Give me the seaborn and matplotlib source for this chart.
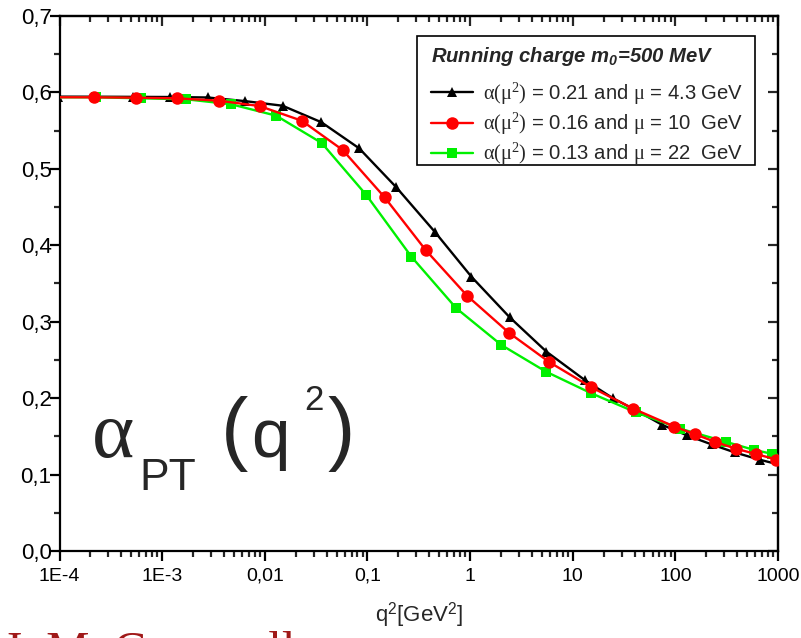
import numpy as np
import matplotlib
matplotlib.use("Agg")
import matplotlib.pyplot as plt
import seaborn as sns
from matplotlib.patches import Rectangle
from matplotlib.ticker import FixedLocator, FixedFormatter, LogLocator, MultipleLocator, NullFormatter

# ---- data ----
q2_black = [9.57e-5, 2.23e-4, 5.16e-4, 1.20e-3, 2.77e-3, 6.46e-3, 0.0149, 0.0356, 0.0830,
            0.191, 0.452, 1.03, 2.43, 5.55, 13.1, 24.7, 42.6, 74.5, 129, 225, 379, 661, 1140]
alpha_black = [0.5945, 0.5944, 0.5942, 0.5940, 0.5934, 0.5886, 0.5826, 0.5610, 0.5269,
               0.4759, 0.4178, 0.3589, 0.3058, 0.2608, 0.2237, 0.1998, 0.1832, 0.1650,
               0.1515, 0.1395, 0.1290, 0.1195, 0.1115]

q2_red = [8.63e-5, 2.19e-4, 5.51e-4, 1.39e-3, 3.57e-3, 8.89e-3, 0.0229, 0.0574, 0.147,
          0.369, 0.942, 2.39, 5.89, 15.2, 38.7, 97.9, 156, 246, 388, 617, 966]
alpha_red = [0.5937, 0.5936, 0.5931, 0.5923, 0.5892, 0.5822, 0.5630, 0.5247, 0.4628,
             0.3938, 0.3336, 0.2856, 0.2473, 0.2142, 0.1863, 0.1628, 0.1527, 0.1426,
             0.1339, 0.1267, 0.1197]

q2_green = [8.30e-5, 2.28e-4, 6.25e-4, 1.72e-3, 4.71e-3, 0.0129, 0.0359, 0.0975, 0.268,
            0.734, 2.02, 5.50, 15.2, 40.9, 112, 308, 590, 865, 1259]
alpha_green = [0.5937, 0.5936, 0.5923, 0.5910, 0.5845, 0.5696, 0.5338, 0.4658, 0.3851,
               0.3176, 0.2695, 0.2346, 0.2063, 0.1816, 0.1599, 0.1430, 0.1321, 0.1273, 0.1235]

series_labels = [r"$\alpha(\mu^2)$ = 0.21 and $\mu$ = 4.3 GeV",
                 r"$\alpha(\mu^2)$ = 0.16 and $\mu$ = 10  GeV",
                 r"$\alpha(\mu^2)$ = 0.13 and $\mu$ = 22  GeV"]
legend_title = r"Running charge m$_{\mathbf{0}}$=500 MeV"

x_ticks = [1e-4, 1e-3, 1e-2, 1e-1, 1, 10, 100, 1000]
x_tick_labels = ["1E-4", "1E-3", "0,01", "0,1", "1", "10", "100", "1000"]
y_ticks = [0.0, 0.1, 0.2, 0.3, 0.4, 0.5, 0.6, 0.7]
y_tick_labels = ["0,0", "0,1", "0,2", "0,3", "0,4", "0,5", "0,6", "0,7"]
x_label = r"q$^{\mathsf{2}}$[GeV$^{\mathsf{2}}$]"
author = "J. M. Cornwall"

# ---- style ----
sns.set_style("ticks")
plt.rcParams["font.family"] = ["Liberation Sans", "DejaVu Sans"]
plt.rcParams["mathtext.fontset"] = "custom"
plt.rcParams["mathtext.rm"] = "Liberation Serif"
plt.rcParams["mathtext.sf"] = "Liberation Sans"
plt.rcParams["mathtext.bf"] = "Liberation Sans:bold:italic"
plt.rcParams["mathtext.default"] = "rm"

W, H = 801, 638
AX_L, AX_R, AX_T, AX_B = 59.5, 778.0, 16.0, 551.0
fig = plt.figure(figsize=(W / 100, H / 100), dpi=100)
ax = fig.add_axes([AX_L / W, (H - AX_B) / H, (AX_R - AX_L) / W, (AX_B - AX_T) / H])
ax.set_xscale("log")
ax.set_xlim(1e-4, 1e3)
ax.set_ylim(0, 0.7)

plot_specs = [
    (q2_black, alpha_black, "black", "^", 7.5, series_labels[0], 2),
    (q2_red, alpha_red, "#ff0000", "o", 9.0, series_labels[1], 4),
    (q2_green, alpha_green, "#00f000", "s", 6.8, series_labels[2], 3),
]
for q, a, col, mk, ms, lab, z in plot_specs:
    sns.lineplot(x=q, y=a, ax=ax, color=col, marker=mk, markersize=ms,
                 markeredgewidth=0, linewidth=1.7, label=lab, zorder=z,
                 estimator=None, sort=False)

# ---- axes / ticks ----
for s in ax.spines.values():
    s.set_linewidth(1.6)
    s.set_color("black")
ax.xaxis.set_major_locator(FixedLocator(x_ticks))
ax.xaxis.set_major_formatter(FixedFormatter(x_tick_labels))
ax.xaxis.set_minor_locator(LogLocator(base=10, subs=np.arange(2, 10), numticks=100))
ax.xaxis.set_minor_formatter(NullFormatter())
ax.yaxis.set_major_locator(FixedLocator(y_ticks))
ax.yaxis.set_major_formatter(FixedFormatter(y_tick_labels))
ax.yaxis.set_minor_locator(MultipleLocator(0.05))
ax.tick_params(which="major", direction="out", length=7.2, width=1.6, colors="black")
ax.tick_params(axis="x", which="major", pad=5, labelsize=14)
ax.tick_params(axis="y", which="major", pad=-1.5, labelsize=16)
ax.tick_params(which="minor", direction="out", length=4.5, width=1.6)
ax.set_xlabel(x_label, fontsize=16, labelpad=11)
ax.set_ylabel("")

secx = ax.secondary_xaxis("top")
secx.xaxis.set_major_locator(FixedLocator(x_ticks))
secx.xaxis.set_minor_locator(LogLocator(base=10, subs=np.arange(2, 10), numticks=100))
secx.xaxis.set_major_formatter(NullFormatter())
secx.xaxis.set_minor_formatter(NullFormatter())
secx.tick_params(which="major", direction="in", length=7, width=1.6)
secx.tick_params(which="minor", direction="in", length=4, width=1.6)
secx.spines["top"].set_linewidth(1.6)

secy = ax.secondary_yaxis("right")
secy.yaxis.set_major_locator(FixedLocator(y_ticks))
secy.yaxis.set_minor_locator(MultipleLocator(0.05))
secy.yaxis.set_major_formatter(NullFormatter())
secy.tick_params(which="major", direction="in", length=7, width=1.6)
secy.tick_params(which="minor", direction="in", length=4, width=1.6)
secy.spines["right"].set_linewidth(1.6)

# ---- legend (frame drawn as a separate box) ----
def axfx(x):
    return (x - AX_L) / (AX_R - AX_L)

def axfy(y):
    return (AX_B - y) / (AX_B - AX_T)

frame = Rectangle((axfx(417), axfy(165)), axfx(755) - axfx(417), axfy(36) - axfy(165),
                  transform=ax.transAxes, facecolor="white", edgecolor="black",
                  linewidth=1.2, zorder=9)
ax.add_patch(frame)

handles, labels = ax.get_legend_handles_labels()
leg = ax.legend(handles, labels, title=legend_title, loc="upper right",
                bbox_to_anchor=(axfx(743), axfy(45)), borderaxespad=0, frameon=False,
                fontsize=14.6,
                title_fontproperties={"weight": "bold", "style": "italic", "size": 14.6},
                alignment="left", handlelength=2.1, handletextpad=0.45,
                labelspacing=0.2, borderpad=0.0)
leg._legend_box.sep = 8.9
leg.set_zorder(10)

# ---- big in-plot label alpha_PT (q^2) ----
def fx(x):
    return x / W

def fy(y):
    return 1 - y / H

fig.text(fx(92), fy(457), "\u03b1", family="Liberation Serif", fontsize=58, va="baseline")
fig.text(fx(139), fy(490), "PT", fontsize=32, va="baseline")
fig.text(fx(221), fy(455), "(", fontsize=59, va="baseline")
fig.text(fx(251), fy(457), "q", fontsize=50, va="baseline")
fig.text(fx(304), fy(410), "2", fontsize=25, va="baseline")
fig.text(fx(328), fy(455), ")", fontsize=59, va="baseline")

# ---- author (cut off at bottom, as in the reference) ----
fig.text(fx(3), fy(665), author, family="Liberation Serif", fontsize=35,
         color="#a01818", va="baseline")

fig.savefig("out.png", dpi=100)
